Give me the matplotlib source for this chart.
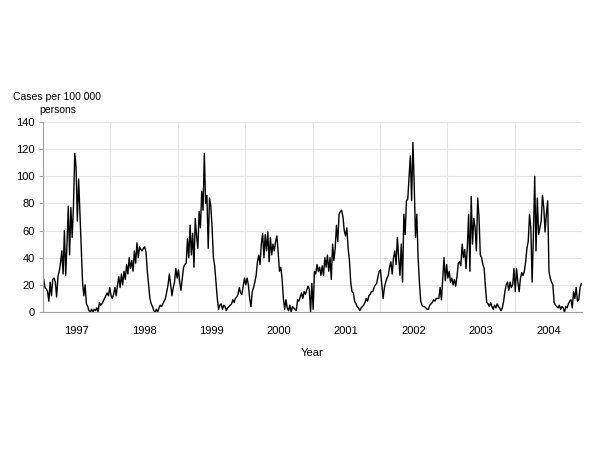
import numpy as np
import matplotlib
matplotlib.use("Agg")
import matplotlib.pyplot as plt

plt.rcParams['font.family'] = ['Liberation Sans', 'DejaVu Sans']

# weekly incidence, one list of 52 weeks per season
y1997 = [24, 18, 17, 15, 8, 22, 12, 24, 25, 22, 11, 26, 30, 36, 45, 28, 60, 27, 50, 78,
         42, 77, 55, 78, 117, 107, 67, 98, 72, 45, 22, 12, 20, 6, 4, 1, 0, 2, 0, 2,
         1, 3, 0, 7, 5, 6, 8, 10, 12, 14, 12, 18]
y1998 = [12, 10, 13, 18, 12, 20, 26, 18, 28, 20, 30, 24, 35, 28, 40, 32, 38, 30, 45, 36,
         51, 40, 48, 46, 45, 47, 48, 44, 30, 20, 10, 6, 4, 1, 0, 2, 0, 3, 5, 4,
         6, 8, 10, 15, 20, 28, 20, 12, 18, 22, 32, 25]
y1999 = [31, 22, 16, 25, 33, 35, 36, 54, 40, 64, 42, 58, 33, 69, 56, 47, 74, 62, 89, 75,
         117, 80, 86, 47, 84, 78, 62, 40, 34, 22, 10, 2, 5, 6, 2, 5, 4, 1, 3, 4,
         5, 6, 9, 7, 10, 11, 13, 18, 14, 13, 19, 25]
y2000 = [20, 25, 20, 10, 4, 15, 18, 22, 27, 37, 42, 35, 50, 58, 40, 57, 45, 59, 37, 55,
         42, 50, 45, 52, 56, 44, 30, 33, 25, 10, 2, 9, 3, 1, 5, 0, 4, 3, 2, 1,
         9, 8, 11, 14, 10, 15, 13, 16, 19, 17, 0, 21]
y2001 = [2, 30, 28, 35, 30, 33, 27, 34, 27, 40, 33, 42, 30, 40, 24, 50, 38, 47, 64, 52,
         72, 74, 75, 70, 60, 56, 62, 47, 38, 22, 15, 14, 8, 6, 4, 3, 1, 3, 4, 5,
         7, 10, 8, 12, 13, 15, 15, 18, 20, 21, 26, 30]
y2002 = [31, 20, 10, 18, 22, 25, 27, 33, 37, 28, 40, 45, 35, 55, 40, 27, 50, 22, 72, 57,
         82, 83, 99, 115, 82, 125, 94, 55, 72, 40, 22, 8, 5, 4, 4, 3, 2, 2, 5, 6,
         7, 9, 8, 10, 10, 10, 18, 9, 25, 40, 23, 35]
y2003 = [25, 30, 22, 25, 20, 24, 19, 26, 36, 37, 34, 50, 40, 46, 32, 48, 72, 30, 85, 50,
         69, 62, 45, 84, 70, 42, 40, 35, 32, 18, 7, 6, 4, 7, 4, 2, 5, 3, 6, 4,
         3, 1, 3, 8, 15, 20, 22, 16, 22, 18, 20, 32]
y2004 = [15, 32, 22, 15, 25, 29, 27, 30, 37, 47, 52, 72, 62, 22, 57, 100, 45, 84, 57, 62,
         67, 86, 77, 59, 72, 82, 30, 25, 22, 20, 7, 5, 4, 3, 5, 2, 4, 3, 0, 4,
         3, 6, 8, 9, 3, 15, 10, 18, 8, 9, 18, 21]

years = ['1997', '1998', '1999', '2000', '2001', '2002', '2003', '2004']
cases = y1997 + y1998 + y1999 + y2000 + y2001 + y2002 + y2003 + y2004
weeks = np.arange(len(cases)) + 0.5

fig = plt.figure(figsize=(6, 4.5), dpi=100)
ax = fig.add_axes([0.0717, 0.3067, 0.8983, 0.4222])

ax.plot(weeks, cases, color='black', linewidth=1.0)

ax.set_xlim(0, 52 * len(years))
ax.set_ylim(0, 140)
ax.set_yticks(range(0, 141, 20))

# year boundaries as gridlines, labels centred in each year
ax.set_xticks(np.arange(0, 52 * len(years) + 1, 52))
ax.set_xticklabels([])
ax.set_xticks(np.arange(26, 52 * len(years), 52), minor=True)
ax.set_xticklabels(years, minor=True)
ax.tick_params(axis='x', which='both', length=0, labelsize=8, pad=10)
ax.tick_params(axis='y', length=3, color='#a0a0a0', labelsize=8, pad=3)

ax.grid(True, which='major', color='#e4e4e4', linewidth=0.8)
ax.set_axisbelow(True)
for side in ['top', 'right']:
    ax.spines[side].set_visible(False)
ax.spines['left'].set_color('#a0a0a0')
ax.spines['bottom'].set_color('#a0a0a0')

ax.set_xlabel('Year', fontsize=8, labelpad=9)
fig.text(0.095, 1 - 97 / 450, 'Cases per 100 000', fontsize=7.5, ha='center', va='center')
fig.text(0.096, 1 - 110 / 450, 'persons', fontsize=7.5, ha='center', va='center')

fig.savefig('out.png', dpi=100)
